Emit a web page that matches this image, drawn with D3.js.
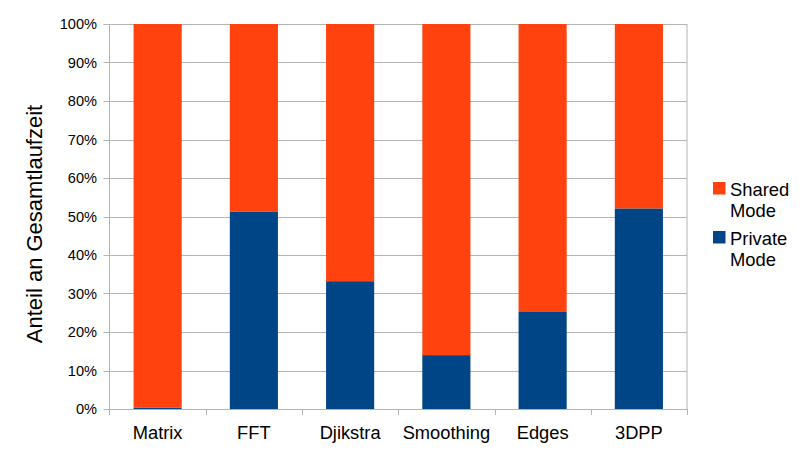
<!DOCTYPE html>
<html>
<head>
<meta charset="utf-8">
<script src="https://cdn.jsdelivr.net/npm/d3@7"></script>
<style>
  body { margin: 0; background: #fff; }
  svg { display: block; font-family: "Liberation Sans", Arial, sans-serif; }
</style>
</head>
<body>
<svg id="chart" width="810" height="450"></svg>
<script>
// Share of total runtime per benchmark, split into private and shared mode
const categories = ["Matrix", "FFT", "Djikstra", "Smoothing", "Edges", "3DPP"];
const privateMode = [0.4, 51.2, 33.2, 14.0, 25.2, 52.1];
const sharedMode = privateMode.map(v => 100 - v);
const yTicks = [0, 10, 20, 30, 40, 50, 60, 70, 80, 90, 100];
const seriesNames = ["Shared Mode", "Private Mode"];
const colors = { shared: "#FF420E", priv: "#004586" };

const svg = d3.select("#chart");
const plotLeft = 109.5, plotRight = 687, plotTop = 24, plotBottom = 409;

const x = d3.scaleBand().domain(categories).range([plotLeft, plotRight]).paddingInner(0.5).paddingOuter(0.25);
const y = d3.scaleLinear().domain([0, 100]).range([plotBottom, plotTop]);
const xBound = d3.scaleLinear().domain([0, categories.length]).range([plotLeft, plotRight]);

// horizontal grid lines with short tick stubs on the left
svg.append("g").selectAll("line").data(yTicks).join("line")
  .attr("x1", plotLeft - 6).attr("x2", plotRight)
  .attr("y1", d => Math.round(y(d)) + 0.5).attr("y2", d => Math.round(y(d)) + 0.5)
  .attr("stroke", "#b3b3b3").attr("stroke-width", 1);

// vertical axis lines
svg.append("line").attr("x1", plotLeft).attr("x2", plotLeft).attr("y1", plotTop).attr("y2", plotBottom + 6)
  .attr("stroke", "#b3b3b3");
svg.append("line").attr("x1", plotRight).attr("x2", plotRight).attr("y1", plotTop).attr("y2", plotBottom)
  .attr("stroke", "#b3b3b3");

// category boundary ticks below the axis
svg.append("g").selectAll("line").data(d3.range(1, categories.length + 1)).join("line")
  .attr("x1", d => Math.round(xBound(d)) + 0.5).attr("x2", d => Math.round(xBound(d)) + 0.5)
  .attr("y1", plotBottom).attr("y2", plotBottom + 6)
  .attr("stroke", "#b3b3b3");

// stacked bars
const rows = categories.map((c, i) => ({ cat: c, priv: privateMode[i], shared: sharedMode[i] }));
const stack = d3.stack().keys(["priv", "shared"])(rows);
svg.append("g").selectAll("g").data(stack).join("g")
  .attr("fill", d => d.key === "priv" ? colors.priv : colors.shared)
  .selectAll("rect").data(d => d).join("rect")
  .attr("x", d => x(d.data.cat))
  .attr("width", x.bandwidth())
  .attr("y", d => y(d[1]))
  .attr("height", d => y(d[0]) - y(d[1]));

// y tick labels
svg.append("g").selectAll("text").data(yTicks).join("text")
  .attr("x", 97).attr("y", d => y(d) + 5)
  .attr("text-anchor", "end").attr("font-size", 14.6).attr("fill", "#000")
  .text(d => d + "%");

// x category labels
svg.append("g").selectAll("text").data(categories).join("text")
  .attr("x", d => x(d) + x.bandwidth() / 2).attr("y", 438.5)
  .attr("text-anchor", "middle").attr("font-size", 18.3).attr("fill", "#000")
  .text(d => d);

// y axis title
svg.append("text")
  .attr("transform", `translate(42, 224) rotate(-90)`)
  .attr("text-anchor", "middle").attr("font-size", 22).attr("fill", "#000")
  .text("Anteil an Gesamtlaufzeit");

// legend
const legend = svg.append("g");
const legendItems = [
  { name: seriesNames[0], color: colors.shared, y: 182 },
  { name: seriesNames[1], color: colors.priv, y: 231 }
];
legendItems.forEach(item => {
  legend.append("rect").attr("x", 713).attr("y", item.y).attr("width", 12.5).attr("height", 12.5)
    .attr("fill", item.color);
  const words = item.name.split(" ");
  const t = legend.append("text").attr("font-size", 18.4).attr("fill", "#000");
  words.forEach((w, i) => {
    t.append("tspan").attr("x", 730).attr("y", item.y + 14 + i * 21.3).text(w);
  });
});
</script>
</body>
</html>
